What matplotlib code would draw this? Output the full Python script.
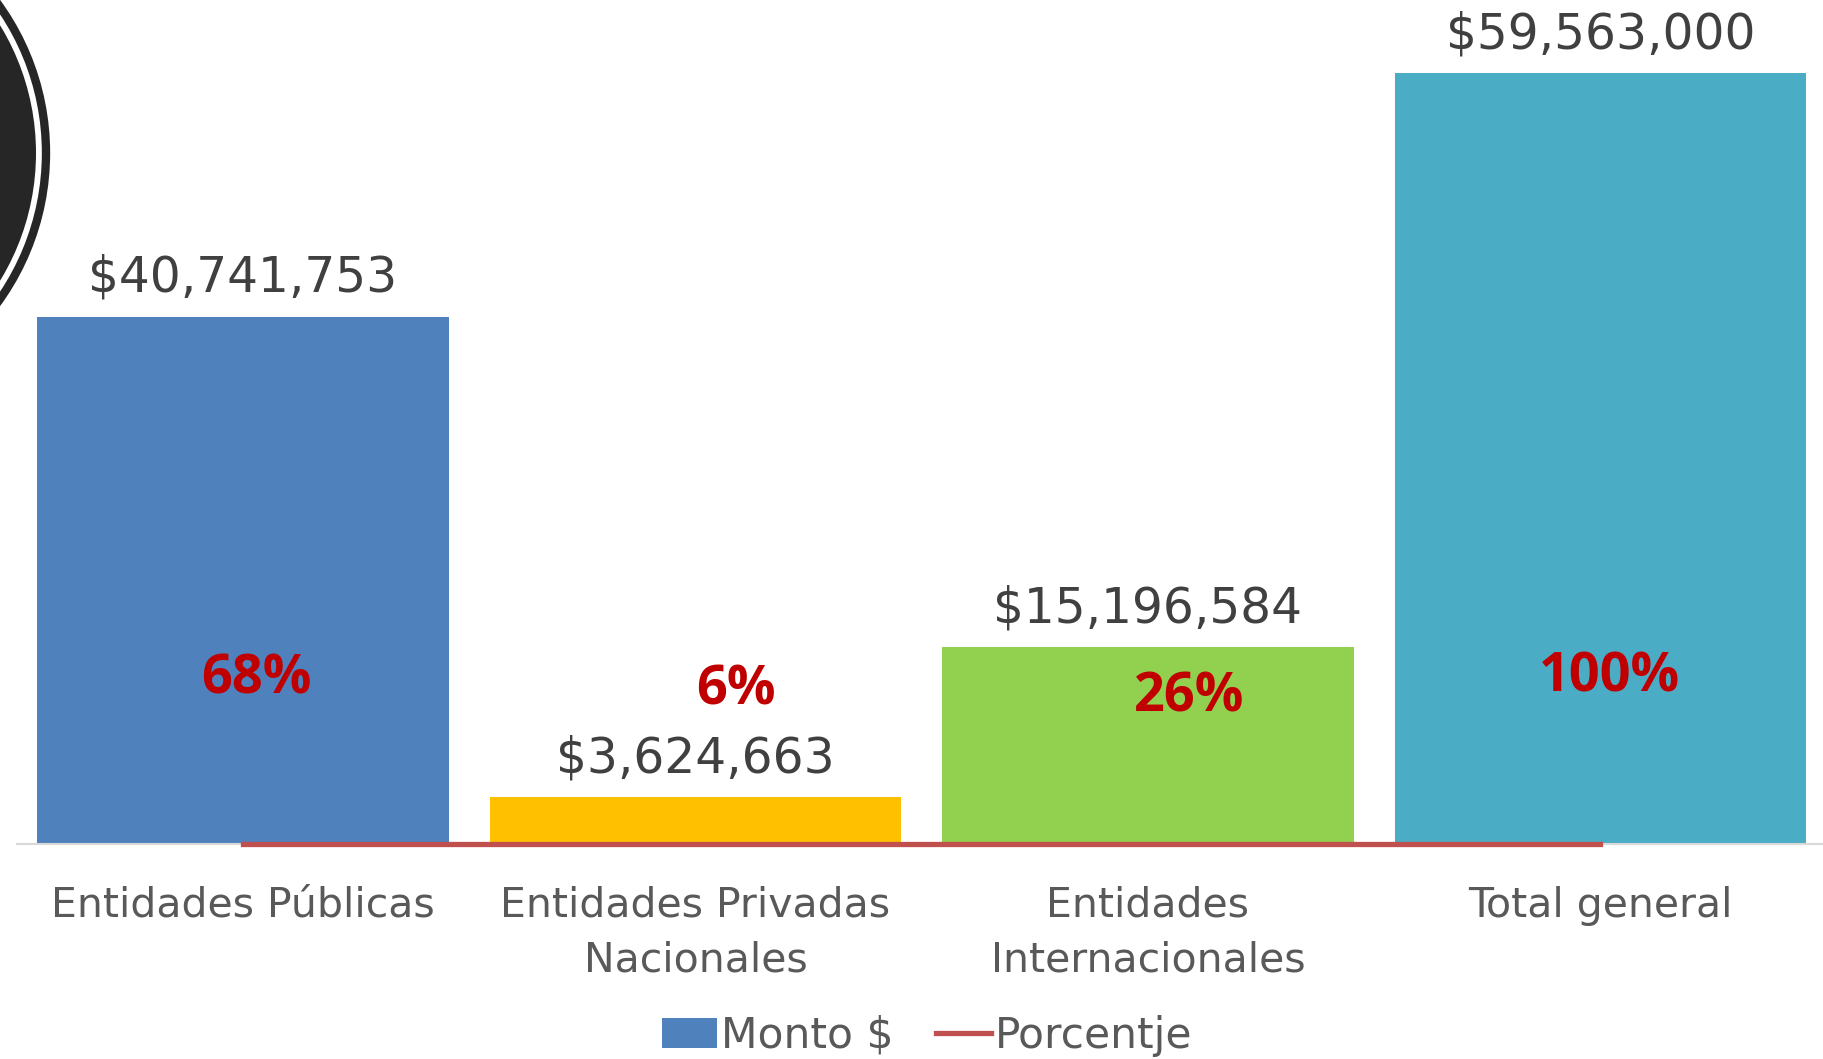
import matplotlib.pyplot as plt
from matplotlib.patches import Circle, Patch
from matplotlib.lines import Line2D

plt.rcParams['font.family'] = ['DejaVu Sans']

categories = ["Entidades Públicas", "Entidades Privadas\nNacionales",
              "Entidades\nInternacionales", "Total general"]
montos = [40741753, 3624663, 15196584, 59563000]
porcentajes = [0.68, 0.06, 0.26, 1.00]
pct_labels = ["68%", "6%", "26%", "100%"]
bar_colors = ["#4F81BD", "#FFC000", "#92D050", "#4BACC6"]

# posicion manual de las etiquetas de porcentaje (offset x en datos, y en datos)
pct_pos = [(0.03, 12.7e6), (0.09, 11.9e6), (0.09, 11.3e6), (0.02, 12.9e6)]

W, H = 1823, 1059
fig = plt.figure(figsize=(W / 100, H / 100), dpi=100)

# decoracion: circulo negro arriba a la izquierda
deco = fig.add_axes([0, 0, 1, 1], zorder=0)
deco.set_xlim(0, W)
deco.set_ylim(H, 0)
deco.axis("off")
deco.add_patch(Circle((-209, 153), 255, facecolor="none", edgecolor="#262626", lw=6))
deco.add_patch(Circle((-209, 153), 245, facecolor="#262626", edgecolor="none"))

ax = fig.add_axes([16.7 / W, (H - 844) / H, 1810 / W, 841 / H], zorder=1)
ax.patch.set_alpha(0)
x = list(range(len(categories)))
bars = ax.bar(x, montos, width=0.91, color=bar_colors, zorder=2)
ax.plot(x, porcentajes, color="#C0504D", lw=3.8, zorder=3, clip_on=False)
ax.set_xlim(-0.5, 3.5)
ax.set_ylim(0, 65e6)

for b, v in zip(bars, montos):
    ax.annotate(f"${v:,.0f}", (b.get_x() + b.get_width() / 2, v),
                xytext=(0, 25), textcoords="offset pixels",
                ha="center", va="baseline", fontsize=35, color="#404040",
                annotation_clip=False)

for xi, lab, (dx, y) in zip(x, pct_labels, pct_pos):
    ax.text(xi + dx, y, lab, ha="center", va="center", fontsize=39,
            fontweight="bold", color="#C00000", zorder=4,
            family=["Open Sans", "DejaVu Sans"])

for s in ["top", "right", "left"]:
    ax.spines[s].set_visible(False)
ax.spines["bottom"].set_color("#D9D9D9")
ax.spines["bottom"].set_linewidth(1.5)
ax.set_yticks([])
ax.set_xticks(x)
ax.set_xticklabels(categories, fontsize=29.5, color="#595959", linespacing=1.48)
ax.tick_params(axis="x", length=0, pad=30)

handles = [Patch(facecolor="#4F81BD"),
           Line2D([0], [0], color="#C0504D", lw=3.8)]
fig.legend(handles, ["Monto $", "Porcentje"], loc="center",
           bbox_to_anchor=(927 / W, 1 - 1036 / H), ncol=2, frameon=False,
           fontsize=30.5, labelcolor="#595959", handlelength=1.3,
           handletextpad=0.1, columnspacing=1.0)

fig.savefig("out.png", dpi=100)
